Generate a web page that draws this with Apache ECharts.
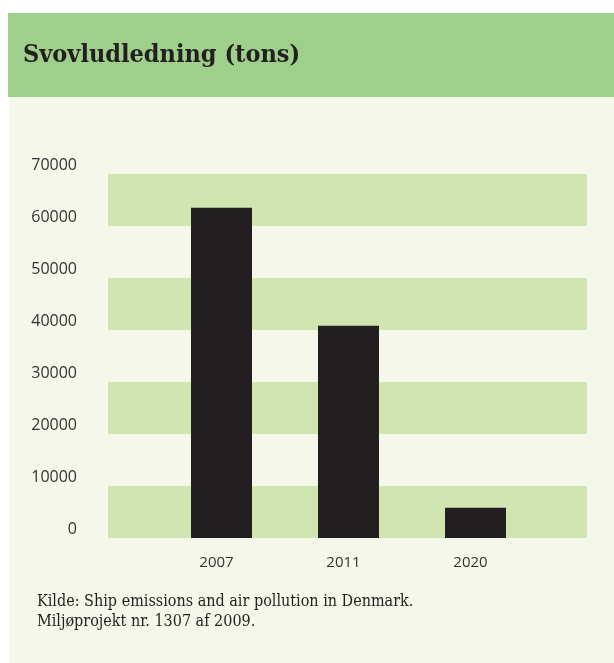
<!DOCTYPE html>
<html><head><meta charset="utf-8">
<script src="https://cdn.jsdelivr.net/npm/echarts@6/dist/echarts.min.js"></script>
<style>html,body{margin:0;padding:0;background:#fff}#c{width:614px;height:663px}</style>
</head><body><div id="c"></div>
<script>
const categories = ['2007', '2011', '2020'];
const values = [63500, 40800, 5800];
const yTicks = [0, 10000, 20000, 30000, 40000, 50000, 60000, 70000];
const titleText = 'Svovludledning (tons)';
const sourceText = 'Kilde: Ship emissions and air pollution in Denmark.\nMiljøprojekt nr. 1307 af 2009.';

const chart = echarts.init(document.getElementById('c'), null, {renderer: 'canvas'});
chart.setOption({
  backgroundColor: '#ffffff',
  animation: false,
  graphic: [
    {type: 'rect', shape: {x: 9, y: 97, width: 605, height: 566}, style: {fill: '#f5f7ea'}, z: -10},
    {type: 'rect', shape: {x: 8, y: 13, width: 606, height: 84}, style: {fill: '#9ecf8b'}, z: -10}
  ],
  title: [
    {text: titleText, left: 18, top: 38,
     textStyle: {fontFamily: 'DejaVu Serif Condensed', fontWeight: 'bold', fontSize: 25, color: '#231f20'}},
    {text: sourceText, left: 32, top: 587,
     textStyle: {fontFamily: 'DejaVu Serif Condensed', fontWeight: 'normal', fontSize: 16, lineHeight: 20, color: '#231f20'}}
  ],
  grid: [
    {left: 108, right: 27, top: 174, bottom: 125},
    {left: 158, right: 75, top: 174, bottom: 125}
  ],
  xAxis: [
    {type: 'value', gridIndex: 0, show: false, min: 0, max: 1},
    {type: 'category', gridIndex: 1, data: categories,
     axisLine: {show: false}, axisTick: {show: false},
     axisLabel: {fontFamily: 'Open Sans', fontSize: 15, color: '#333', margin: 17, padding: [0, 10, 0, 0]}}
  ],
  yAxis: [
    {type: 'value', gridIndex: 0, min: yTicks[0], max: yTicks[yTicks.length - 1], interval: 10000,
     axisLine: {show: false}, axisTick: {show: false}, splitLine: {show: false},
     splitArea: {show: true, areaStyle: {color: ['#d1e5b1', 'rgba(0,0,0,0)']}},
     axisLabel: {fontFamily: 'Open Sans', fontSize: 16, color: '#333', margin: 31, verticalAlign: 'bottom', lineHeight: 17,
                 formatter: v => String(v)}},
    {type: 'value', gridIndex: 1, min: yTicks[0], max: yTicks[yTicks.length - 1], interval: 10000, show: false,
     splitLine: {show: false}}
  ],
  series: [
    {type: 'bar', xAxisIndex: 1, yAxisIndex: 1, data: values, barWidth: 61,
     itemStyle: {color: '#231f20'}}
  ]
});
</script></body></html>
